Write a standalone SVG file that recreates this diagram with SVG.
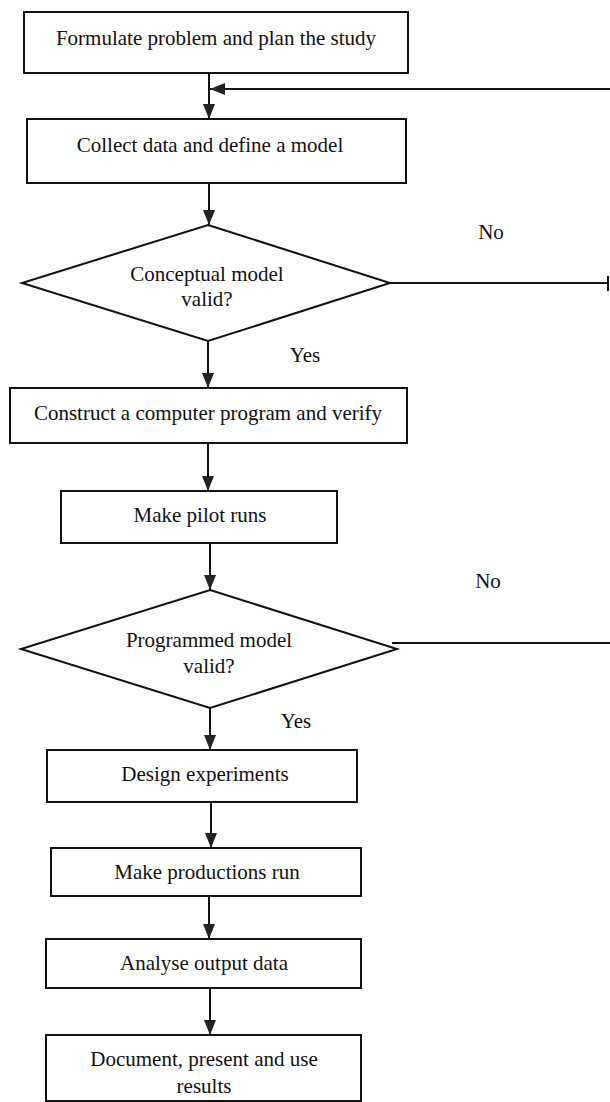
<svg xmlns="http://www.w3.org/2000/svg" width="610" height="1102" viewBox="0 0 610 1102">
<style>
.box{fill:#fff;stroke:#111;stroke-width:2}
.lbl{font-family:"Liberation Serif","Times New Roman",serif;font-size:21px;fill:#111;text-anchor:middle}
.con{fill:none;stroke:#111;stroke-width:2}
</style>
<defs>
<marker id="ah" viewBox="0 0 15 12" refX="15" refY="6" markerWidth="15" markerHeight="12" markerUnits="userSpaceOnUse" orient="auto">
<path d="M0,0 L15,6 L0,12 z" fill="#222"/>
</marker>
</defs>
<rect width="610" height="1102" fill="#fff"/>
<g id="n1"><rect class="box" x="24" y="12" width="384" height="61"/><text class="lbl" x="216" y="45">Formulate problem and plan the study</text></g>
<g id="n2"><rect class="box" x="27" y="119" width="379" height="64"/><text class="lbl" x="210" y="152">Collect data and define a model</text></g>
<g id="n3"><polygon class="box" points="208,225 390,283 208,341 22,283"/><text class="lbl" x="207" y="281">Conceptual model</text><text class="lbl" x="207" y="306">valid?</text></g>
<g id="n4"><rect class="box" x="10" y="388" width="397" height="55"/><text class="lbl" x="208" y="420">Construct a computer program and verify</text></g>
<g id="n5"><rect class="box" x="61" y="491" width="276" height="52"/><text class="lbl" x="200" y="522">Make pilot runs</text></g>
<g id="n6"><polygon class="box" points="210,590 397,649 210,708 21,649"/><text class="lbl" x="209" y="647">Programmed model</text><text class="lbl" x="209" y="673">valid?</text></g>
<g id="n7"><rect class="box" x="47" y="750" width="310" height="52"/><text class="lbl" x="205" y="781">Design experiments</text></g>
<g id="n8"><rect class="box" x="51" y="848" width="310" height="48"/><text class="lbl" x="207" y="879">Make productions run</text></g>
<g id="n9"><rect class="box" x="46" y="939" width="315" height="49"/><text class="lbl" x="204" y="970">Analyse output data</text></g>
<g id="n10"><rect class="box" x="46" y="1035" width="315" height="66"/><text class="lbl" x="204" y="1066">Document, present and use</text><text class="lbl" x="204" y="1093">results</text></g>
<g id="connectors">
<line class="con" x1="209" y1="73" x2="209" y2="119" marker-end="url(#ah)"/>
<line class="con" x1="610" y1="89" x2="210" y2="89" marker-end="url(#ah)"/>
<line class="con" x1="209" y1="183" x2="209" y2="225" marker-end="url(#ah)"/>
<line class="con" x1="208" y1="341" x2="208" y2="388" marker-end="url(#ah)"/>
<line class="con" x1="208" y1="443" x2="208" y2="491" marker-end="url(#ah)"/>
<line class="con" x1="210" y1="543" x2="210" y2="590" marker-end="url(#ah)"/>
<line class="con" x1="210" y1="708" x2="210" y2="750" marker-end="url(#ah)"/>
<line class="con" x1="211" y1="802" x2="211" y2="848" marker-end="url(#ah)"/>
<line class="con" x1="209" y1="896" x2="209" y2="939" marker-end="url(#ah)"/>
<line class="con" x1="210" y1="988" x2="210" y2="1035" marker-end="url(#ah)"/>
<line class="con" x1="390" y1="283" x2="608" y2="283"/>
<line class="con" x1="608" y1="276" x2="608" y2="291"/>
<line class="con" x1="392" y1="643" x2="610" y2="643"/>
<text class="lbl" x="491" y="239">No</text>
<text class="lbl" x="305" y="362">Yes</text>
<text class="lbl" x="488" y="588">No</text>
<text class="lbl" x="296" y="728">Yes</text>
</g>
</svg>
